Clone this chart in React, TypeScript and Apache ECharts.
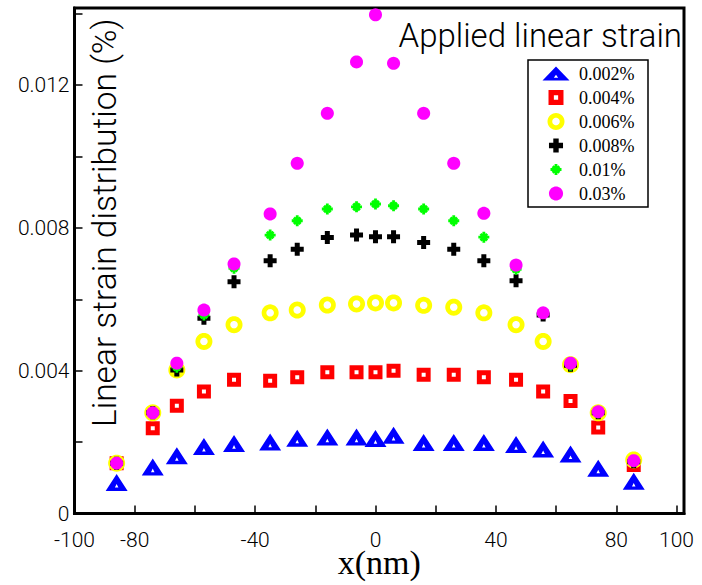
import React, { useEffect, useRef } from 'react';
import * as echarts from 'echarts';

// ---- data ----
const xPositions = [-86, -74, -66, -57, -47, -35, -26, -16, -6.3, 0, 6, 16, 26, 36, 46.7, 55.7, 64.8, 74, 85.8];
const strain002 = [0.00087, 0.0013, 0.00162, 0.00188, 0.00196, 0.002, 0.00211, 0.00214, 0.00214, 0.0021, 0.00219, 0.00199, 0.00199, 0.00199, 0.00193, 0.00181, 0.00167, 0.00127, 0.0009];
const strain004 = [0.00141, 0.00239, 0.00302, 0.00342, 0.00375, 0.00372, 0.00382, 0.00396, 0.00396, 0.00396, 0.004, 0.00389, 0.00389, 0.00382, 0.00375, 0.00342, 0.00315, 0.00241, 0.00136];
const strain006 = [0.00141, 0.00282, 0.00402, 0.00482, 0.00529, 0.00562, 0.0057, 0.00584, 0.00587, 0.0059, 0.0059, 0.00583, 0.00578, 0.00562, 0.00529, 0.00482, 0.00417, 0.00282, 0.0015];
const strain008 = [0.00141, 0.00282, 0.00402, 0.00547, 0.00649, 0.00708, 0.0074, 0.00773, 0.0078, 0.00775, 0.00775, 0.00759, 0.0074, 0.00708, 0.00652, 0.00556, 0.00415, 0.00282, 0.00145];
const strain01 = [0.00141, 0.00282, 0.0041, 0.00556, 0.00687, 0.0078, 0.0082, 0.00853, 0.00859, 0.00867, 0.00862, 0.00853, 0.0082, 0.00774, 0.00684, 0.0056, 0.00415, 0.00282, 0.00145];
const strain03 = [0.00141, 0.00282, 0.00421, 0.0057, 0.00699, 0.00839, 0.00981, 0.01121, 0.01265, 0.01397, 0.01261, 0.01121, 0.00981, 0.00841, 0.00696, 0.00562, 0.00421, 0.00285, 0.00148];
const seriesNames = ['0.002%', '0.004%', '0.006%', '0.008%', '0.01%', '0.03%'];
const xLabelValues = [-100, -80, -40, 0, 40, 80, 100];
const yLabelValues = [0, 0.004, 0.008, 0.012];

// ---- marker shapes ----
type Pt = [number, number];
const fmt = (n: number) => String(Math.round(n * 100) / 100);
const loop = (pts: Pt[]) => 'M' + pts.map((p) => fmt(p[0]) + ' ' + fmt(p[1])).join(' L') + ' Z';
const circlePts = (cx: number, cy: number, r: number, rev = false, n = 36): Pt[] => {
  const pts: Pt[] = [];
  for (let i = 0; i < n; i++) {
    const a = ((rev ? -1 : 1) * i * 2 * Math.PI) / n;
    pts.push([cx + r * Math.cos(a), cy + r * Math.sin(a)]);
  }
  return pts;
};
const triShape = (ox: number, oy: number, w: number, h: number) => {
  const cx = ox + w / 2;
  const hy = oy + h * 0.7;
  return (
    loop([[cx, oy], [ox + w, oy + h], [ox, oy + h]]) + ' ' +
    loop([[cx, hy - h * 0.11], [cx - w * 0.08, hy + h * 0.1], [cx + w * 0.08, hy + h * 0.1]])
  );
};
const squareShape = (ox: number, oy: number, s: number, hole: number) => {
  const a = ox + (s - hole) / 2, b = oy + (s - hole) / 2;
  return (
    loop([[ox, oy], [ox + s, oy], [ox + s, oy + s], [ox, oy + s]]) + ' ' +
    loop([[a, b], [a, b + hole], [a + hole, b + hole], [a + hole, b]])
  );
};
const ringShape = (ox: number, oy: number, d: number, inner: number) =>
  loop(circlePts(ox + d / 2, oy + d / 2, d / 2)) + ' ' + loop(circlePts(ox + d / 2, oy + d / 2, inner / 2, true));
const discShape = (ox: number, oy: number, d: number) => loop(circlePts(ox + d / 2, oy + d / 2, d / 2));
const plusShape = (ox: number, oy: number, s: number, t: number) => {
  const a = (s - t) / 2, b = (s + t) / 2;
  return loop([
    [ox + a, oy], [ox + b, oy], [ox + b, oy + a], [ox + s, oy + a], [ox + s, oy + b], [ox + b, oy + b],
    [ox + b, oy + s], [ox + a, oy + s], [ox + a, oy + b], [ox, oy + b], [ox, oy + a], [ox + a, oy + a],
  ]);
};
const starShape = (ox: number, oy: number, s: number, t: number) => {
  const cx = ox + s / 2, cy = oy + s / 2, L = s / 2, ht = t / 2;
  return [0, 45, 90, 135]
    .map((deg) => {
      const th = (deg * Math.PI) / 180;
      const ux = Math.cos(th), uy = Math.sin(th), nx = -uy, ny = ux;
      const l = deg % 90 === 0 ? L : L * 0.85;
      return loop([
        [cx + l * ux + ht * nx, cy + l * uy + ht * ny],
        [cx + l * ux - ht * nx, cy + l * uy - ht * ny],
        [cx - l * ux - ht * nx, cy - l * uy - ht * ny],
        [cx - l * ux + ht * nx, cy - l * uy + ht * ny],
      ]);
    })
    .join(' ');
};

interface Marker { w: number; h: number; make: (ox: number, oy: number, k: number) => string; color: string }
const markers: Marker[] = [
  { w: 22, h: 17, make: (ox, oy, k) => triShape(ox, oy, 22 * k, 17 * k), color: '#0000ff' },
  { w: 14, h: 14, make: (ox, oy, k) => squareShape(ox, oy, 14 * k, 4 * k), color: '#ff0000' },
  { w: 17, h: 17, make: (ox, oy, k) => ringShape(ox, oy, 17 * k, 7.5 * k), color: '#ffff00' },
  { w: 13, h: 13, make: (ox, oy, k) => plusShape(ox, oy, 13 * k, 5 * k), color: '#000000' },
  { w: 11, h: 11, make: (ox, oy, k) => starShape(ox, oy, 11 * k, 2.8 * k), color: '#00ff00' },
  { w: 13, h: 13, make: (ox, oy, k) => discShape(ox, oy, 13 * k), color: '#ff00ff' },
];
const legendScale = [1.2, 1.07, 1.0, 1.08, 1.0, 1.08];
const LW = 36, LH = 18;
const legendIcon = (i: number) => {
  const m = markers[i];
  const k = legendScale[i];
  let w = m.w * k, h = m.h * k;
  if (i === 0) { w = 27; h = 14; }
  const ox = (LW - w) / 2, oy = (LH - h) / 2;
  const d = i === 0 ? triShape(ox, oy, 27, 14) : m.make(ox, oy, k);
  return 'path://' + d + ` M0 0 M${LW} ${LH}`;
};

const SANS = 'Roboto, "Liberation Sans", Arial, sans-serif';
const SERIF = '"Liberation Serif", "Times New Roman", serif';
const inList = (list: number[], v: number) => list.some((u) => Math.abs(u - v) < 1e-9);

export default function App() {
  const ref = useRef<HTMLDivElement>(null);
  useEffect(() => {
    if (!ref.current) return;
    const chart = echarts.init(ref.current, undefined, { renderer: 'svg' });
    const allSeries = [strain002, strain004, strain006, strain008, strain01, strain03];
    chart.setOption({
      animation: false,
      backgroundColor: '#ffffff',
      title: {
        text: 'Applied linear strain',
        right: 20,
        top: 19,
        padding: 0,
        textStyle: { fontSize: 33, fontWeight: 300, color: '#000', fontFamily: SANS },
      },
      grid: {
        left: 74.5,
        right: 18,
        top: 8,
        bottom: 71.5,
        show: true,
        borderColor: '#000',
        borderWidth: 3,
        outerBoundsMode: 'none',
      },
      legend: {
        orient: 'vertical',
        left: 538,
        top: 64.5,
        itemWidth: LW,
        itemHeight: LH,
        itemGap: 6,
        padding: 0,
        selectedMode: false,
        itemStyle: { borderWidth: 0 },
        textStyle: { fontFamily: SERIF, fontSize: 18, color: '#000' },
        data: seriesNames.map((n, i) => ({ name: n, icon: legendIcon(i) })),
        z: 5,
      },
      graphic: [
        {
          type: 'rect',
          shape: { x: 528, y: 60, width: 120, height: 147 },
          style: { fill: '#fff', stroke: '#000', lineWidth: 1.5 },
          z: 4,
        },
      ],
      xAxis: {
        type: 'value',
        min: -100,
        max: 102.5,
        interval: 20,
        name: 'x(nm)',
        nameLocation: 'middle',
        nameGap: 32,
        nameMoveOverlap: false,
        nameTextStyle: { fontFamily: SERIF, fontSize: 34, color: '#000' },
        axisLine: { onZero: false, lineStyle: { color: '#000', width: 3 } },
        axisTick: { show: true, inside: true, length: 8, lineStyle: { color: '#000', width: 1.5 } },
        axisLabel: {
          margin: 16,
          fontFamily: SANS,
          fontWeight: 300,
          fontSize: 21,
          color: '#000',
          formatter: (v: number) => (inList(xLabelValues, v) ? String(v) : ''),
        },
        splitLine: { show: false },
      },
      yAxis: {
        type: 'value',
        min: 0,
        max: 0.01416,
        interval: 0.002,
        name: 'Linear strain distribution (%)',
        nameLocation: 'middle',
        nameGap: -30,
        nameMoveOverlap: false,
        nameTextStyle: {
          fontFamily: SANS,
          fontSize: 33.5,
          fontWeight: 300,
          color: '#000',
          verticalAlign: 'middle',
          padding: [0, 0, 0, 76],
        },
        axisLine: { onZero: false, lineStyle: { color: '#000', width: 3 } },
        axisTick: { show: true, inside: true, length: 8, lineStyle: { color: '#000', width: 1.5 } },
        axisLabel: {
          margin: 5,
          fontFamily: SANS,
          fontWeight: 300,
          fontSize: 21,
          color: '#000',
          formatter: (v: number) => (inList(yLabelValues, v) ? (v === 0 ? '0' : v.toFixed(3)) : ''),
        },
        splitLine: { show: false },
      },
      series: allSeries.map((vals, i) => ({
        type: 'scatter',
        name: seriesNames[i],
        data: xPositions.map((x, j) => [x, vals[j]]),
        symbol: 'path://' + markers[i].make(0, 0, 1),
        symbolSize: [markers[i].w, markers[i].h],
        itemStyle: { color: markers[i].color, opacity: 1 },
        emphasis: { disabled: true },
        z: 2,
      })),
    });
    return () => chart.dispose();
  }, []);
  return <div ref={ref} style={{ position: 'fixed', left: 0, top: 0, width: 702, height: 585 }} />;
}
